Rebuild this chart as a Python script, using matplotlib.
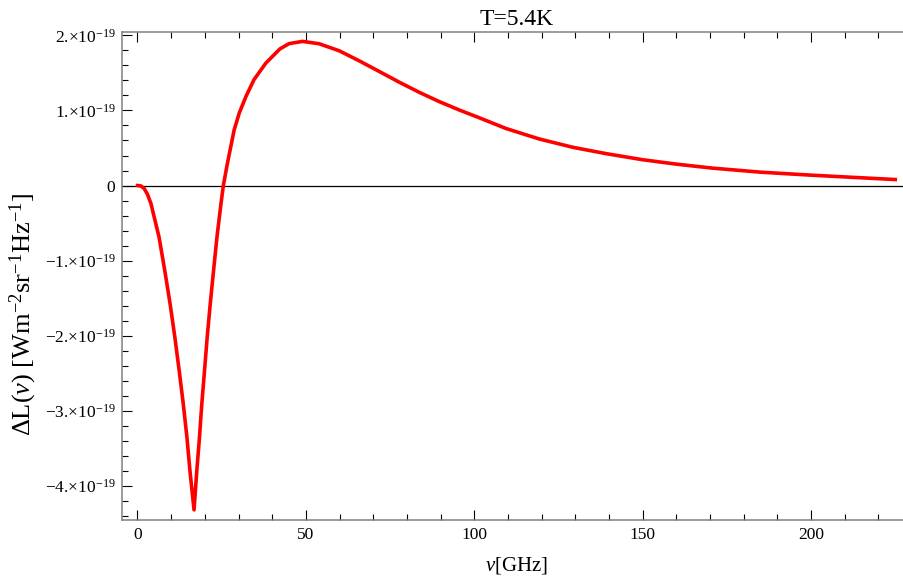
import matplotlib
matplotlib.use("Agg")
import matplotlib.pyplot as plt
from matplotlib.ticker import MultipleLocator, FixedLocator, FixedFormatter

plt.rcParams['font.family'] = ['Liberation Serif', 'DejaVu Serif']
plt.rcParams['mathtext.fontset'] = 'custom'
plt.rcParams['mathtext.rm'] = 'Liberation Serif'
plt.rcParams['mathtext.it'] = 'Liberation Serif:italic'

#frequency (GHz)
nu = [0, 1, 2, 3, 4.0, 6.4, 8.1, 9.7, 11.1, 12.4, 13.6, 14.7, 15.6, 16.8,
      17.6, 18.4, 19.1, 19.9, 20.7, 21.6, 22.6, 23.6, 24.8, 25.5,
      26.7, 28.7, 30.2, 32.2, 34.6, 38.1, 42.3, 45.0, 49.0, 53.9, 59.9,
      65.8, 71.8, 77.7, 83.6, 89.6, 95.5, 101.4, 109.4, 119.3, 129.2, 139.1,
      150.1, 160, 170.7, 185, 200.1, 212, 225]
#delta L in units of 1e-19 W m^-2 sr^-1 Hz^-1
dL = [0, -0.005, -0.04, -0.12, -0.24, -0.687, -1.13, -1.58, -2.02, -2.47, -2.91, -3.36, -3.81, -4.32,
      -3.81, -3.36, -2.91, -2.47, -2.02, -1.58, -1.13, -0.687, -0.24, 0,
      0.294, 0.739, 0.963, 1.185, 1.41, 1.63, 1.82, 1.89, 1.92, 1.889, 1.795,
      1.662, 1.519, 1.377, 1.243, 1.118, 1.007, 0.904, 0.76, 0.62, 0.51, 0.425,
      0.343, 0.285, 0.232, 0.178, 0.138, 0.11, 0.08]

yticks = [-4, -3, -2, -1, 0, 1, 2]
ytick_labels = ['\u22124.\u00d710$^{-19}$', '\u22123.\u00d710$^{-19}$', '\u22122.\u00d710$^{-19}$',
                '\u22121.\u00d710$^{-19}$', '0', '1.\u00d710$^{-19}$', '2.\u00d710$^{-19}$']
xticks = [0, 50, 100, 150, 200]

fig = plt.figure(figsize=(9.04, 5.84), dpi=100)
ax = fig.add_axes([0.1353, 0.1096, 0.8718, 0.8356])

scale = 1e-19
ax.plot(nu, [v*scale for v in dL], color='#ff0000', lw=2.6, solid_joinstyle='round', zorder=3)
ax.axhline(0, color='black', lw=0.9, zorder=2)

ax.set_xlim(-4.5, 229.5)
ax.set_ylim(-4.455e-19, 2.045e-19)

ax.xaxis.set_major_locator(FixedLocator(xticks))
ax.xaxis.set_minor_locator(MultipleLocator(10))
ax.yaxis.set_major_locator(FixedLocator([y*scale for y in yticks]))
ax.yaxis.set_major_formatter(FixedFormatter(ytick_labels))
ax.yaxis.set_minor_locator(MultipleLocator(0.2e-19))

ax.tick_params(which='both', direction='in', top=True, right=False, labelsize=12.5, pad=5)
ax.tick_params(which='major', length=7, width=0.8)
ax.tick_params(which='minor', length=4, width=0.8)
for s in ax.spines.values():
    s.set_color('#808080')
    s.set_linewidth(1.1)
ax.spines['right'].set_visible(False)

ax.set_title('T=5.4K', fontsize=17, pad=5)
ax.set_xlabel(r'$\nu$[GHz]', fontsize=15, labelpad=9)
fig.text(0.026, 0.462, r'$\Delta$L($\nu$) [Wm$^{-2}$sr$^{-1}$Hz$^{-1}$]', rotation=90,
         fontsize=19, ha='center', va='center')

fig.savefig('out.png', dpi=100)
